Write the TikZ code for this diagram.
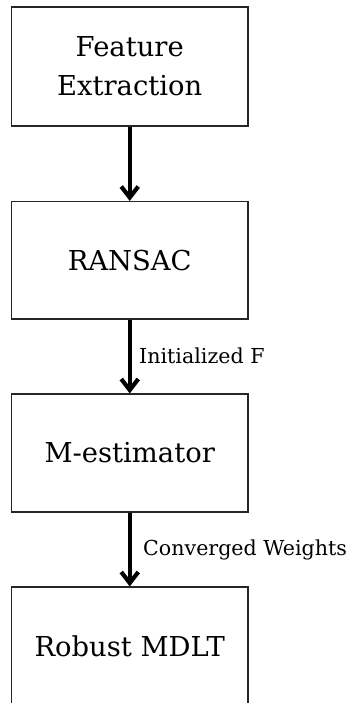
\documentclass[tikz,border=0pt]{standalone}
\usepackage{fontspec}
\setmainfont{DejaVu Serif}
\usetikzlibrary{arrows.meta}
\tikzset{
  box/.style={draw=black!85, line width=1.1pt, minimum width=236.5pt, inner sep=0pt, align=center,
    font=\fontsize{27.4pt}{39.4pt}\selectfont},
  flow/.style={line width=4.2pt, -{Straight Barb[length=11pt,width=17pt]}},
  lbl/.style={anchor=base west, inner sep=0pt, font=\fontsize{20.6pt}{24pt}\selectfont}
}
\begin{document}
\begin{tikzpicture}[x=1pt,y=-1pt]
\useasboundingbox (0,0) rectangle (351,703);
\node[box, minimum height=119pt] (b1) at (129.75,66.5) {Feature\\Extraction};
\node[box, minimum height=117.5pt] (b2) at (129.75,260.25) {RANSAC};
\node[box, minimum height=118pt] (b3) at (129.75,453) {M-estimator};
\node[box, minimum height=118pt] (b4) at (129.75,646) {Robust MDLT};
\draw[flow] (b1.south) -- (b2.north);
\draw[flow] (b2.south) -- (b3.north);
\draw[flow] (b3.south) -- (b4.north);
\node[lbl] (l1) at (139,363.3) {Initialized F};
\node[lbl] (l2) at (143,555.5) {Converged Weights};
\end{tikzpicture}
\end{document}
